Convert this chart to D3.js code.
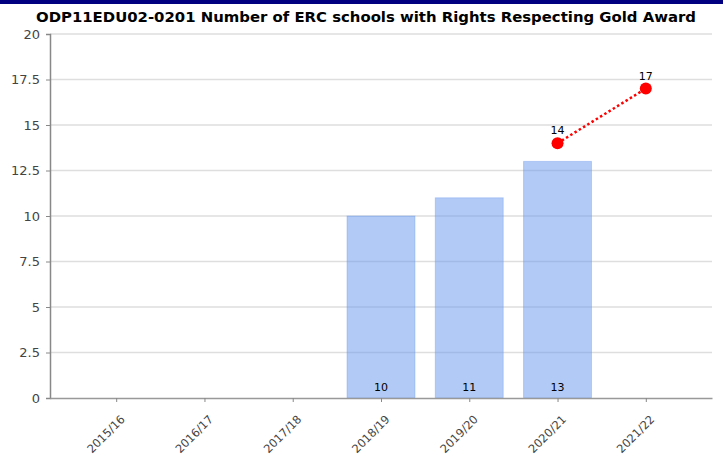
<!DOCTYPE html>
<html>
<head>
<meta charset="utf-8">
<script src="https://cdn.jsdelivr.net/npm/d3@7"></script>
<style>
  body { margin: 0; background: #fff; }
  svg { display: block; }
</style>
</head>
<body>
<svg width="723" height="455"></svg>
<script>
// chart data
var years = ['2015/16', '2016/17', '2017/18', '2018/19', '2019/20', '2020/21', '2021/22'];
var barYears = ['2018/19', '2019/20', '2020/21'];
var barValues = [10, 11, 13];
var lineYears = ['2020/21', '2021/22'];
var lineValues = [14, 17];
var yTicks = [0, 2.5, 5, 7.5, 10, 12.5, 15, 17.5, 20];

var titleText = 'ODP11EDU02-0201 Number of ERC schools with Rights Respecting Gold Award';

var svg = d3.select('svg');
var plotLeft = 50, plotRight = 712, plotTop = 34, plotBottom = 398;
var fontName = 'DejaVu Sans';

// navy band at the top
svg.append('rect')
    .attr('x', 0).attr('y', 0)
    .attr('width', 723).attr('height', 4)
    .attr('fill', '#000080');

svg.append('text')
    .attr('x', 366).attr('y', 22)
    .attr('text-anchor', 'middle')
    .attr('font-family', fontName)
    .attr('font-weight', 'bold')
    .attr('font-size', 14)
    .attr('textLength', 660)
    .attr('lengthAdjust', 'spacingAndGlyphs')
    .attr('fill', '#000')
    .text(titleText);

var xScale = d3.scalePoint()
    .domain(years)
    .range([plotLeft, plotRight])
    .padding(0.75);

var yScale = d3.scaleLinear()
    .domain([0, 20])
    .range([plotBottom, plotTop]);

// gridlines
svg.append('g')
    .selectAll('line')
    .data(yTicks.filter(function(d) { return d > 0; }))
    .enter().append('line')
    .attr('x1', plotLeft).attr('x2', plotRight)
    .attr('y1', function(d) { return yScale(d); })
    .attr('y2', function(d) { return yScale(d); })
    .attr('stroke', '#dedede')
    .attr('stroke-width', 1.5);

var barWidth = xScale.step() * 0.77;

svg.append('g')
    .selectAll('rect')
    .data(barValues)
    .enter().append('rect')
    .attr('x', function(d, i) { return xScale(barYears[i]) - barWidth / 2; })
    .attr('y', function(d) { return yScale(d); })
    .attr('width', barWidth)
    .attr('height', function(d) { return yScale(0) - yScale(d); })
    .attr('fill', 'cornflowerblue')
    .attr('fill-opacity', 0.5)
    .attr('stroke', 'cornflowerblue')
    .attr('stroke-opacity', 0.35);

svg.append('g')
    .selectAll('text')
    .data(barValues)
    .enter().append('text')
    .attr('x', function(d, i) { return xScale(barYears[i]); })
    .attr('y', yScale(0) - 7)
    .attr('text-anchor', 'middle')
    .attr('font-family', fontName)
    .attr('font-size', 11)
    .attr('fill', '#000')
    .text(function(d) { return d; });

// y axis
var yAxis = d3.axisLeft(yScale)
    .tickValues(yTicks)
    .tickSize(4)
    .tickPadding(6)
    .tickFormat(function(d) { return d; });

var gy = svg.append('g')
    .attr('transform', 'translate(' + plotLeft + ',0)')
    .call(yAxis);
gy.select('.domain').attr('stroke', '#888').attr('stroke-width', 1.5);
gy.selectAll('.tick line').attr('stroke', '#888');
gy.selectAll('.tick text')
    .attr('font-family', fontName)
    .attr('font-size', 13)
    .attr('fill', '#444');

// x axis
var xAxis = d3.axisBottom(xScale)
    .tickSize(4)
    .tickSizeOuter(0);

var gx = svg.append('g')
    .attr('transform', 'translate(0,' + plotBottom + ')')
    .call(xAxis);
gx.select('.domain').attr('stroke', '#999').attr('stroke-width', 1.5);
gx.selectAll('.tick line').attr('stroke', '#888');
gx.selectAll('.tick text')
    .attr('font-family', fontName)
    .attr('font-size', 11.5)
    .attr('fill', '#444')
    .attr('text-anchor', 'end')
    .attr('dy', null)
    .attr('y', 0)
    .attr('transform', 'translate(9,22) rotate(-45)');

// target line
var line = d3.line()
    .x(function(d, i) { return xScale(lineYears[i]); })
    .y(function(d) { return yScale(d); });

svg.append('path')
    .datum(lineValues)
    .attr('d', line)
    .attr('fill', 'none')
    .attr('stroke', '#ff0000')
    .attr('stroke-width', 2.5)
    .attr('stroke-dasharray', '2.5,2.5');

svg.append('g')
    .selectAll('circle')
    .data(lineValues)
    .enter().append('circle')
    .attr('cx', function(d, i) { return xScale(lineYears[i]); })
    .attr('cy', function(d) { return yScale(d); })
    .attr('r', 6)
    .attr('fill', '#ff0000');

svg.append('g')
    .selectAll('text')
    .data(lineValues)
    .enter().append('text')
    .attr('x', function(d, i) { return xScale(lineYears[i]); })
    .attr('y', function(d) { return yScale(d) - 9; })
    .attr('text-anchor', 'middle')
    .attr('font-family', fontName)
    .attr('font-size', 11)
    .attr('fill', '#000')
    .text(function(d) { return d; });
</script>
</body>
</html>
